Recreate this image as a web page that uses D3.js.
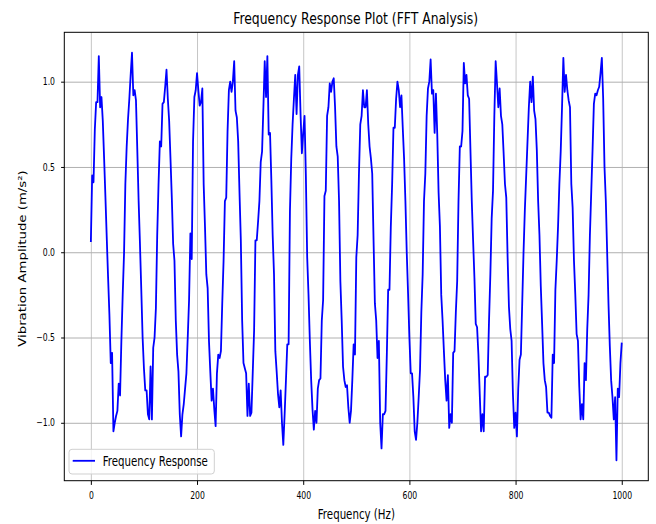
<!DOCTYPE html>
<html>
<head>
<meta charset="utf-8">
<script src="https://cdn.jsdelivr.net/npm/d3@7"></script>
<style>
  body { margin: 0; background: #fff; }
  svg text { font-family: "DejaVu Sans", sans-serif; fill: #000; }
</style>
</head>
<body>
<svg id="chart" width="656" height="524"></svg>
<script>
/* Data Section */
// one amplitude reading every 2.5 Hz, 0 .. 1000 Hz (10 readings per row = 25 Hz)
var freqStep = 2.5;
var amplitude = [
     0.06,  0.45,  0.41,  0.72,  0.88,  0.88,  1.15,  0.85,  0.91,  0.77,
     0.55,  0.32,  0.08, -0.15, -0.37, -0.65, -0.59, -1.05, -1.00, -0.96,
    -0.93, -0.77, -0.84, -0.52, -0.25, -0.01,  0.40,  0.62,  0.78,  0.90,
     1.04,  1.17,  0.92,  0.95,  0.89,  0.60,  0.30,  0.05, -0.22, -0.50,
    -0.68, -0.81, -0.81, -0.95, -0.98, -0.67, -0.98, -0.56, -0.50, -0.33,
     0.10,  0.40,  0.65,  0.62,  0.87,  0.88,  0.97,  1.07,  0.90,  0.77,
     0.55,  0.32,  0.05, -0.05, -0.40, -0.60, -0.70, -0.95, -1.08, -0.95,
    -0.89, -0.80, -0.71, -0.50, -0.28,  0.11, -0.04,  0.65,  0.91,  0.95,
     1.05,  0.95,  0.86,  0.88,  0.96,  0.40,  0.15, -0.13, -0.21, -0.52,
    -0.70, -0.87, -0.80, -0.92, -1.02, -0.71, -0.60, -0.62, -0.58, -0.30,
    -0.05,  0.30,  0.32,  0.71,  0.95,  1.00,  0.94,  1.00,  1.12,  0.83,
     0.79,  0.65,  0.35,  0.07, -0.40, -0.65, -0.68, -0.71, -0.96, -0.77,
    -0.96, -0.94, -0.70, -0.46,  0.07,  0.07,  0.18,  0.30,  0.53,  0.59,
     0.85,  1.12,  0.91,  1.15,  0.69,  0.70,  0.42,  0.10, -0.13, -0.58,
    -0.70, -0.83, -0.91, -0.81, -1.00, -1.13, -0.95, -0.75, -0.54, -0.54,
     0.24,  0.55,  0.75,  0.90,  1.04,  0.81,  1.04,  1.09,  0.81,  0.58,
     0.70,  0.80,  0.45, -0.03, -0.25, -0.52, -0.75, -0.92, -1.04, -0.93,
    -1.00, -0.80, -0.75, -0.74, -0.40, -0.28,  0.33,  0.36,  0.80,  0.85,
     0.99,  0.94,  1.00,  1.02,  0.85,  0.62,  0.56,  0.30, -0.17, -0.40,
    -0.67, -0.75, -0.79, -0.78, -0.91, -1.00, -0.93, -0.75, -0.54, -0.60,
    -0.03,  0.10,  0.46,  0.75,  0.80,  0.95,  0.85,  0.85,  0.95,  0.75,
     0.62,  0.55,  0.46,  0.07, -0.30, -0.40, -0.62, -0.52, -1.00, -1.15,
    -0.95, -0.95, -0.93, -0.60, -0.22, -0.22,  0.15,  0.40,  0.73,  0.73,
     0.90,  1.00,  0.95,  0.85,  0.92,  0.73,  0.55,  0.30,  0.00, -0.24,
    -0.50, -0.71, -0.71, -0.85, -1.05, -1.10, -1.00, -0.85, -0.69, -0.35,
    -0.13,  0.30,  0.46,  0.80,  0.96,  1.00,  1.13,  0.93,  0.95,  0.70,
     0.93,  0.69,  0.35,  0.15, -0.25, -0.40, -0.58, -0.75, -0.87, -0.72,
    -1.03, -0.95, -1.00, -0.59, -0.58, -0.35, -0.17,  0.30,  0.62,  0.62,
     0.71,  1.11,  0.99,  1.04,  0.92,  0.90,  0.60,  0.30,  0.07, -0.15,
    -0.42, -0.44, -0.60, -0.83, -1.05, -0.95, -1.05, -0.73, -0.73, -0.72,
    -0.40, -0.13,  0.20,  0.36,  0.80,  1.12,  0.99,  0.85,  0.96,  0.80,
     0.75,  0.58,  0.40,  0.32, -0.03, -0.32, -0.45, -0.52, -0.83, -1.03,
    -0.94, -1.08, -0.80, -0.63, -0.60, -0.30,  0.00,  0.25,  0.45,  0.65,
     0.85,  1.00,  0.88,  1.03,  0.83,  0.78,  0.60,  0.30,  0.10, -0.20,
    -0.42, -0.65, -0.75, -0.79, -0.94, -0.94, -0.96, -0.97, -0.60, -0.65,
    -0.22, -0.05,  0.15,  0.40,  0.59,  0.85,  1.14,  0.94,  1.04,  0.95,
     0.89,  0.85,  0.40,  0.26, -0.05, -0.25, -0.48, -0.52, -0.79, -0.98,
    -0.89, -0.98, -0.65, -0.75, -0.45, -0.25,  0.10,  0.35,  0.60,  0.87,
     0.93,  0.92,  0.95,  0.97,  1.05,  1.14,  0.90,  0.50,  0.30,  0.00,
    -0.30, -0.55, -0.75, -0.85, -0.98, -0.85, -1.22, -0.80, -0.85, -0.65,
    -0.53
];
var xTicks = [0, 200, 400, 600, 800, 1000];
var yTicks = [-1.0, -0.5, 0.0, 0.5, 1.0];

var titleText = "Frequency Response Plot (FFT Analysis)";
var xLabel = "Frequency (Hz)";
var yLabel = "Vibration Amplitude (m/s²)";
var legendLabel = "Frequency Response";

/* Layout */
var margin = {top: 32.3, right: 7.7, bottom: 43.3, left: 64.3},
    width = 656 - margin.left - margin.right,
    height = 524 - margin.top - margin.bottom;

// the original picture is squeezed sideways, so text gets narrower glyphs
var squeeze = 0.77;

var points = amplitude.map(function (a, i) { return {f: i * freqStep, a: a}; });

// matplotlib style 5% padding around the data
var fExt = d3.extent(points, function (d) { return d.f; });
var aExt = d3.extent(points, function (d) { return d.a; });
var fPad = (fExt[1] - fExt[0]) * 0.05,
    aPad = (aExt[1] - aExt[0]) * 0.05;

var xScale = d3.scaleLinear().domain([fExt[0] - fPad, fExt[1] + fPad]).range([0, width]);
var yScale = d3.scaleLinear().domain([aExt[0] - aPad, aExt[1] + aPad]).range([height, 0]);

var svg = d3.select("#chart");
svg.append("rect").attr("width", 656).attr("height", 524).attr("fill", "#fff");

var g = svg.append("g")
    .attr("transform", "translate(" + margin.left + "," + margin.top + ")");

// grid lines
g.append("g")
    .attr("class", "grid")
    .call(d3.axisBottom(xScale).tickValues(xTicks).tickSize(height).tickFormat(""))
    .call(function (s) {
        s.select(".domain").remove();
        s.selectAll("line").attr("stroke", "#c6c6c6").attr("stroke-width", 1);
    });

g.append("g")
    .attr("class", "grid")
    .call(d3.axisLeft(yScale).tickValues(yTicks).tickSize(-width).tickFormat(""))
    .call(function (s) {
        s.select(".domain").remove();
        s.selectAll("line").attr("stroke", "#b0b0b0").attr("stroke-width", 1);
    });

// the response curve
var line = d3.line()
    .x(function (d) { return xScale(d.f); })
    .y(function (d) { return yScale(d.a); });

g.append("path")
    .datum(points)
    .attr("fill", "none")
    .attr("stroke", "#0000ff")
    .attr("stroke-width", 1.8)
    .attr("stroke-linejoin", "round")
    .attr("d", line);

// x axis
var gx = g.append("g")
    .attr("transform", "translate(0," + height + ")")
    .attr("font-family", "DejaVu Sans, sans-serif")
    .attr("font-size", 12)
    .call(d3.axisBottom(xScale).tickValues(xTicks).tickSize(4.2).tickPadding(6.9).tickFormat(d3.format("d")));
gx.select(".domain").remove();
gx.selectAll("line").attr("stroke", "#000").attr("stroke-width", 1);
gx.selectAll("text").attr("transform", "scale(" + squeeze + ",1)");

// y axis
var gy = g.append("g")
    .attr("font-family", "DejaVu Sans, sans-serif")
    .attr("font-size", 12)
    .call(d3.axisLeft(yScale).tickValues(yTicks).tickSize(3.2).tickFormat(d3.format(".1f")));
gy.select(".domain").remove();
gy.selectAll("line").attr("stroke", "#000").attr("stroke-width", 1);
gy.selectAll("text")
    .attr("x", -9.3 / squeeze)
    .attr("transform", "scale(" + squeeze + ",1)");

// frame
g.append("rect")
    .attr("width", width)
    .attr("height", height)
    .attr("fill", "none")
    .attr("stroke", "#000")
    .attr("stroke-width", 1);

// title and axis labels
svg.append("text")
    .attr("transform", "translate(" + (margin.left + width / 2 - 0.7) + ",24) scale(0.775,1)")
    .attr("text-anchor", "middle")
    .style("font-size", "16px")
    .text(titleText);

svg.append("text")
    .attr("transform", "translate(" + (margin.left + width / 2) + ",519) scale(" + squeeze + ",1)")
    .attr("text-anchor", "middle")
    .style("font-size", "13.3px")
    .text(xLabel);

svg.append("text")
    .attr("transform", "translate(26," + (margin.top + height / 2 + 2) + ") rotate(-90) scale(1," + squeeze + ")")
    .attr("text-anchor", "middle")
    .style("font-size", "13.3px")
    .text(yLabel);

// legend, lower left
var legend = g.append("g")
    .attr("transform", "translate(4.7," + (height - 31.4) + ")");

legend.append("rect")
    .attr("width", 145.3)
    .attr("height", 24.7)
    .attr("rx", 3)
    .attr("fill", "#fff")
    .attr("fill-opacity", 0.8)
    .attr("stroke", "#d0d0d0")
    .attr("stroke-width", 1);

legend.append("line")
    .attr("x1", 3.7).attr("x2", 26)
    .attr("y1", 11.5).attr("y2", 11.5)
    .attr("stroke", "#0000ff")
    .attr("stroke-width", 1.8);

legend.append("text")
    .attr("transform", "translate(33.7,16.8) scale(0.775,1)")
    .style("font-size", "13.2px")
    .text(legendLabel);
</script>
</body>
</html>
